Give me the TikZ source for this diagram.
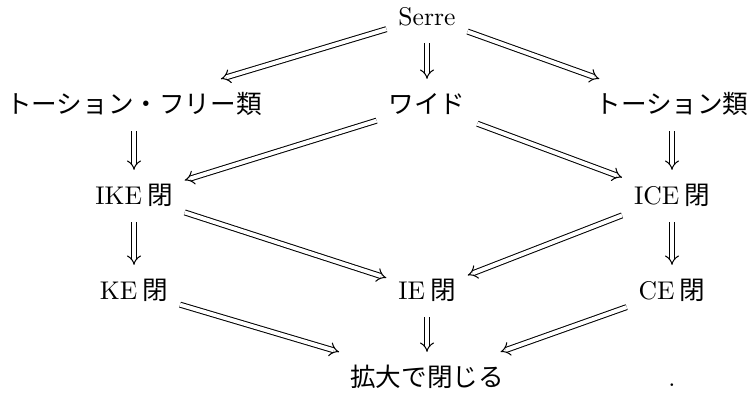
\documentclass[tikz,border=0pt]{standalone}
\usepackage{fontspec}
\newfontfamily\cjk{Noto Sans CJK JP}
\usetikzlibrary{arrows.meta}
\begin{document}
\begin{tikzpicture}[x=0.3907pt,y=-0.3907pt,
  cell/.style={inner xsep=4.5pt, inner ysep=5.5pt, text height=8pt, text depth=1pt, anchor=center},
  impl/.style={double, double equal sign distance, line width=0.4pt, -{Implies}}]
\useasboundingbox (0,0) rectangle (750,396);
\node[cell] (serre) at (427,17) {Serre};
\node[cell] (tf) at (134,105) {\cjk トーション・フリー類};
\node[cell] (wide) at (427,105) {\cjk ワイド};
\node[cell] (tor) at (672,105) {\cjk トーション類};
\node[cell] (ike) at (134,196) {IKE\kern2pt{\cjk 閉}};
\node[cell] (ice) at (672,196) {ICE\kern2pt{\cjk 閉}};
\node[cell] (ke) at (134,291) {KE\kern2pt{\cjk 閉}};
\node[cell] (ie) at (427,291) {IE\kern2pt{\cjk 閉}};
\node[cell] (ce) at (672,291) {CE\kern2pt{\cjk 閉}};
\node[cell] (ext) at (427,378) {\cjk 拡大で閉じる};
\node[cell] (dot) at (672,378) {.};
\draw[impl] (serre) -- (tf);
\draw[impl] (serre) -- (wide);
\draw[impl] (serre) -- (tor);
\draw[impl] (tf) -- (ike);
\draw[impl] (wide) -- (ike);
\draw[impl] (wide) -- (ice);
\draw[impl] (tor) -- (ice);
\draw[impl] (ike) -- (ke);
\draw[impl] (ike) -- (ie);
\draw[impl] (ice) -- (ie);
\draw[impl] (ice) -- (ce);
\draw[impl] (ke) -- (ext);
\draw[impl] (ie) -- (ext);
\draw[impl] (ce) -- (ext);
\end{tikzpicture}
\end{document}
